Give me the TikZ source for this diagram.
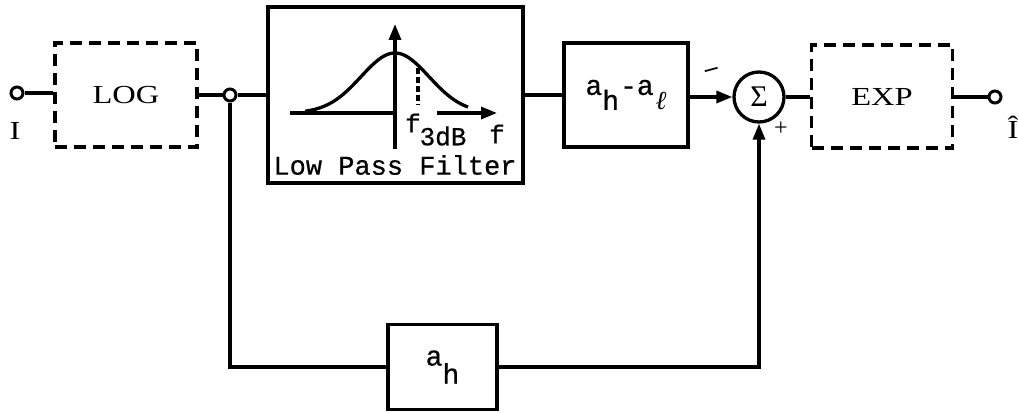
\documentclass[tikz,border=0pt]{standalone}
\usepackage{fontspec}
\setmainfont{Liberation Serif}
\newfontfamily\wideserif[FakeStretch=1.25]{Liberation Serif}
\newfontfamily\mono[FakeBold=0.6]{Liberation Mono}
\usetikzlibrary{arrows.meta,calc}
\begin{document}
\begin{tikzpicture}[x=1pt,y=-1pt,line width=3.3pt,
  sbox/.style={draw,rectangle,inner sep=0pt},
  dbox/.style={draw,rectangle,inner sep=0pt,dash pattern=on 12pt off 7pt,
    font=\wideserif\fontsize{26}{26}\selectfont},
  term/.style={circle,draw,fill=white,minimum size=12pt,inner sep=0pt,line width=3pt},
  arr/.style={-{Triangle[length=16pt,width=12pt]}},
  lbl/.style={inner sep=0pt,font=\wideserif\fontsize{26}{26}\selectfont},
  mlbl/.style={inner sep=0pt,font=\mono\fontsize{26}{26}\selectfont}]
\useasboundingbox (0,0) rectangle (1019,412);
\fill[white] (0,0) rectangle (1019,412);
% blocks
\node[term] (in) at (17,93) {};
\node[dbox,minimum width=142pt,minimum height=104pt] (log) at (126,95) {LOG};
\node[term] (j) at (230,95) {};
\node[sbox,minimum width=255pt,minimum height=176pt] (lpf) at (395.5,95) {};
\node[sbox,minimum width=124pt,minimum height=104pt,font=\mono\fontsize{28}{28}\selectfont] (ahal) at (626,95)
  {a\raisebox{-15pt}{h}\hspace{1pt}-a\raisebox{-15pt}{\hspace{2pt}{\rmfamily\fontsize{26}{26}\selectfont\itshape ℓ}}};
\node[circle,draw,line width=3.3pt,minimum size=50pt,inner sep=0pt,font=\rmfamily\fontsize{30}{30}\selectfont] (sum) at (759,97) {Σ};
\node[dbox,minimum width=141pt,minimum height=103pt] (exp) at (882,96.5) {EXP};
\node[term] (out) at (995,97) {};
\node[sbox,minimum width=109pt,minimum height=85pt,font=\mono\fontsize{28}{28}\selectfont] (ah) at (442.5,367)
  {a\raisebox{-18pt}{h}};
% labels
\node[lbl] (lI) at (15,131) {I};
\node[lbl] (lIhat) at (1013,127) {Î};
\node[inner sep=0pt,font=\rmfamily\fontsize{26}{26}\selectfont\bfseries,rotate=15] (lminus) at (712,72) {–};
\node[inner sep=0pt,font=\rmfamily\fontsize{24}{24}\selectfont] (lplus) at (781,129) {+};
% connectors
\draw (in) -- (in -| log.west);
\draw (log.east |- j) -- (j);
\draw (j) -- (j -| lpf.west);
\draw (lpf.east) -- (ahal.west);
\draw[arr] (ahal.east |- sum) -- (sum.west);
\draw (sum) -- (sum -| exp.west);
\draw (exp.east |- out) -- (out);
\draw (j) |- (ah.west);
\draw[arr] (ah.east) -| (sum.south);
% low pass filter sketch
\draw (290,113) -- (395,113);
\draw[arr] (437,113) -- (497,113);
\draw[arr] (395,149) -- (395,24);
\draw plot[domain=305:468,samples=80] (\x,{113-60*exp(-(((\x-395)/48)*((\x-395)/48)))});
\draw[line width=3.2pt,dash pattern=on 6pt off 3pt] (418,68) -- (418,105);
\node[mlbl] (lf) at (413,123) {f};
\node[mlbl] (l3db) at (443,136) {3dB};
\node[mlbl] (lf2) at (497,134) {f};
\node[inner sep=0pt,font=\mono\fontsize{27}{27}\selectfont] (llpf) at (395,165) {Low Pass Filter};
\end{tikzpicture}
\end{document}
